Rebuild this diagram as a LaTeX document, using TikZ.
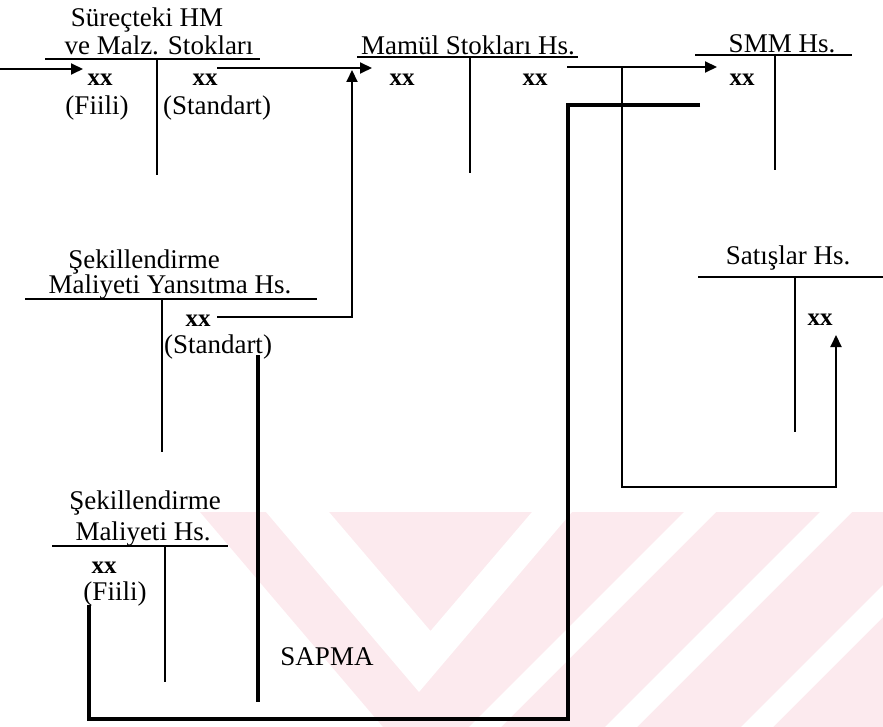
\documentclass[tikz,border=0pt]{standalone}
\usepackage{fontspec}
\setmainfont{Liberation Serif}
\usetikzlibrary{arrows.meta}
\definecolor{wm}{RGB}{252,234,238}
\begin{document}
\begin{tikzpicture}[x=0.5pt,y=-0.5pt,
  lbl/.style={font=\fontsize{13.5}{16}\selectfont, inner sep=0pt, anchor=base},
  amt/.style={font=\fontsize{12.5}{15}\selectfont\bfseries, inner sep=0pt, anchor=base},
  tline/.style={line width=1.3pt},
  conn/.style={line width=1pt},
  bold conn/.style={line width=2.3pt, line join=miter},
  tip/.style={-{Triangle[length=6pt,width=5.5pt]}},
]
\useasboundingbox (0,0) rectangle (883,727);
% watermark
\begin{scope}
\clip (0,512) rectangle (883,727);
\fill[wm] (200,512) -- (883,512) -- (883,727) -- (383,727) -- cycle;
\fill[white] (266,512) -- (329,512) -- (430.5,631) -- (532,512) -- (572,512) -- (419,692) -- cycle;
\fill[white] (684,512) -- (716,512) -- (501,727) -- (469,727) -- cycle;
\fill[white] (820,512) -- (852,512) -- (637,727) -- (605,727) -- cycle;
\fill[white] (956,512) -- (988,512) -- (773,727) -- (741,727) -- cycle;
\end{scope}

% Süreçteki HM ve Malz. Stokları
\node[lbl] (s1) at (147,27) {Süreçteki HM};
\node[lbl] (s2) at (159,55) {ve Malz. Stokları};
\draw[tline] (45,59) -- (260,59);
\draw[tline] (157,59) -- (157,175);
\node[amt] (sxl) at (100,86) {xx};
\node[lbl] (sfl) at (97,115) {(Fiili)};
\node[amt] (sxr) at (205,86) {xx};
\node[lbl] (ssr) at (217,115) {(Standart)};

% Mamül Stokları Hs.
\node[lbl] (m1) at (468,55) {Mamül Stokları Hs.};
\draw[tline] (357,57) -- (578,57);
\draw[tline] (470,57) -- (470,173);
\node[amt] (mxl) at (402,86) {xx};
\node[amt] (mxr) at (535,86) {xx};

% SMM Hs.
\node[lbl] (smm) at (782,53) {SMM Hs.};
\draw[tline] (695,55) -- (852,55);
\draw[tline] (775,55) -- (775,170);
\node[amt] (smmx) at (742,86) {xx};

% Şekillendirme Maliyeti Yansıtma Hs.
\node[lbl] (y1) at (144,269) {Şekillendirme};
\node[lbl] (y2) at (170,293) {Maliyeti Yansıtma Hs.};
\draw[tline] (25,299) -- (317,299);
\draw[tline] (162,299) -- (162,452);
\node[amt] (yx) at (198,326) {xx};
\node[lbl] (ys) at (218,353) {(Standart)};

% Satışlar Hs.
\node[lbl] (sat) at (788,264) {Satışlar Hs.};
\draw[tline] (698,277) -- (883,277);
\draw[tline] (795,277) -- (795,432);
\node[amt] (satx) at (820,325) {xx};

% Şekillendirme Maliyeti Hs.
\node[lbl] (k1) at (145,509) {Şekillendirme};
\node[lbl] (k2) at (143,540) {Maliyeti Hs.};
\draw[tline] (52,546) -- (228,546);
\draw[tline] (165,546) -- (165,682);
\node[amt] (kx) at (104,573) {xx};
\node[lbl] (kf) at (115,600) {(Fiili)};

\node[lbl] (sapma) at (327,665) {SAPMA};

% connectors
\coordinate (in0) at (0,69);
\coordinate (in1) at (83,69);
\draw[conn,tip] (in0) -- (in1);

\coordinate (sm0) at (217,68);
\coordinate (sm1) at (372,68);
\draw[conn,tip] (sm0) -- (sm1);

\coordinate (ym0) at (217,317);
\coordinate (ym1) at (352,317);
\coordinate (ym2) at (352,70);
\draw[conn,tip] (ym0) -- (ym1) -- (ym2);

\coordinate (ms0) at (567,67);
\coordinate (ms1) at (717,67);
\draw[conn,tip] (ms0) -- (ms1);

\coordinate (ss0) at (622,67);
\coordinate (ss1) at (622,487);
\coordinate (ss2) at (836,487);
\coordinate (ss3) at (836,335);
\draw[conn,tip] (ss0) -- (ss1) -- (ss2) -- (ss3);

\coordinate (b0) at (700,105);
\coordinate (b1) at (568,105);
\coordinate (b2) at (568,719);
\coordinate (b3) at (89,719);
\coordinate (b4) at (89,605);
\draw[bold conn] (b0) -- (b1) -- (b2) -- (b3) -- (b4);

\coordinate (v0) at (258,355);
\coordinate (v1) at (258,702);
\draw[bold conn] (v0) -- (v1);
\end{tikzpicture}
\end{document}
